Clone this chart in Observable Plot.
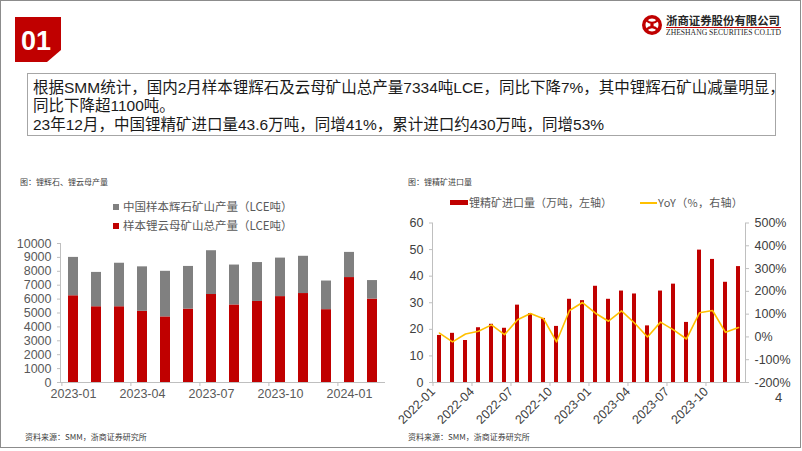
<!DOCTYPE html>
<html>
<head>
<meta charset="utf-8">
<script src="https://cdn.jsdelivr.net/npm/d3@7"></script>
<script src="https://cdn.jsdelivr.net/npm/@observablehq/plot@0.6"></script>
<style>
  body { margin: 0; background: #fff; }
  #slide { position: relative; width: 802px; height: 451px; overflow: hidden; background: #fff;
           font-family: "Liberation Sans", "Noto Sans CJK SC", sans-serif; }
  .abs { position: absolute; white-space: nowrap; }
  .small { font-size: 8px; color: #404040; font-family: "Noto Sans CJK SC", sans-serif; }
  .leg { font-size: 11.5px; color: #595959; font-family: "Noto Sans CJK SC", sans-serif; line-height: 14px; }
</style>
</head>
<body>
<div id="slide">
  <svg class="abs" style="left:0;top:0" width="802" height="451">
    <rect x="0.5" y="0.5" width="800" height="447" fill="none" stroke="#8c8c8c" stroke-width="1"/>
    <path d="M15,17 L61,17 L61,50 L47,62 L15,62 Z" fill="#C00000"/>
    <text x="36" y="50" fill="#fff" font-family="Liberation Sans" font-weight="bold" font-size="27" text-anchor="middle">01</text>
    <circle cx="652" cy="25" r="10" fill="#C00000"/>
    <circle cx="652" cy="25" r="6.5" fill="#fff"/>
    <path d="M646,20 Q652,26 658,20 M646,30 Q652,24 658,30" stroke="#C00000" stroke-width="2.2" fill="none"/>
    <circle cx="652" cy="25" r="1.8" fill="#C00000"/>
    <text x="666" y="25" fill="#262626" font-family="Noto Sans CJK SC" font-weight="bold" font-size="11.5" textLength="114" lengthAdjust="spacingAndGlyphs">浙商证券股份有限公司</text>
    <line x1="666" y1="27.5" x2="781" y2="27.5" stroke="#C00000" stroke-width="1"/>
    <text x="666" y="35" fill="#262626" font-family="Liberation Serif" font-size="7.5" textLength="115" lengthAdjust="spacingAndGlyphs">ZHESHANG SECURITIES CO.LTD</text>
    <rect x="27.5" y="73.5" width="748" height="62" fill="none" stroke="#a6a6a6" stroke-width="1"/>
  </svg>

  <div class="abs" style="left:33px;top:79px;font-size:15.5px;line-height:18.3px;color:#1a1a1a;">
    <div id="note1"></div><div id="note2"></div><div id="note3"></div>
  </div>

  <div class="abs small" style="left:20px;top:176px;">图：锂辉石、锂云母产量</div>
  <div class="abs small" style="left:408px;top:176px;">图：锂精矿进口量</div>

  <div class="abs leg" style="left:113px;top:199px;"><span style="display:inline-block;width:6px;height:6px;background:#808080;margin-right:4px;vertical-align:1px"></span><span id="legA"></span></div>
  <div class="abs leg" style="left:113px;top:218px;"><span style="display:inline-block;width:6px;height:6px;background:#C00000;margin-right:4px;vertical-align:1px"></span><span id="legB"></span></div>

  <div class="abs" style="left:450px;top:200px;width:18px;height:5px;background:#C00000"></div>
  <div class="abs leg" style="left:469px;top:195px;font-size:11px" id="legC"></div>
  <div class="abs" style="left:640px;top:202px;width:17px;height:2px;background:#FFC000"></div>
  <div class="abs leg" style="left:658px;top:195px;font-size:11px;letter-spacing:0.3px" id="legD"></div>

  <div class="abs" id="leftChart" style="left:0;top:235px;"></div>
  <div class="abs" id="rightChart" style="left:400px;top:212px;"></div>

  <div class="abs small" style="left:25px;top:431px;">资料来源：SMM，浙商证券研究所</div>
  <div class="abs small" style="left:408px;top:431px;">资料来源：SMM，浙商证券研究所</div>
  <div class="abs" style="left:775px;top:390px;font-size:13px;color:#404040;">4</div>
</div>

<script>
// ---------- text ----------
const noteLines = [
  "根据SMM统计，国内2月样本锂辉石及云母矿山总产量7334吨LCE，同比下降7%，其中锂辉石矿山减量明显，",
  "同比下降超1100吨。",
  "23年12月，中国锂精矿进口量43.6万吨，同增41%，累计进口约430万吨，同增53%"
];
const seriesNames = ["中国样本辉石矿山产量（LCE吨）", "样本锂云母矿山总产量（LCE吨）"];
const importNames = ["锂精矿进口量（万吨，左轴）", "YoY（%，右轴）"];

// ---------- left chart data ----------
const months23 = ["2023-01","2023-02","2023-03","2023-04","2023-05","2023-06","2023-07",
                  "2023-08","2023-09","2023-10","2023-11","2023-12","2024-01","2024-02"];
const micaOutput      = [6240,5450,5450,5120,4720,5280,6330,5580,5830,6180,6400,5240,7550,6000];
const spodumeneOutput = [2760,2470,3130,3200,3280,3070,3150,2870,2800,2770,2680,2060,1810,1334];
const leftYTicks = [0,1000,2000,3000,4000,5000,6000,7000,8000,9000,10000];
const leftXTicks = ["2023-01","2023-04","2023-07","2023-10","2024-01"];

// ---------- right chart data ----------
const months22 = ["2022-01","2022-02","2022-03","2022-04","2022-05","2022-06","2022-07","2022-08",
                  "2022-09","2022-10","2022-11","2022-12","2023-01","2023-02","2023-03","2023-04",
                  "2023-05","2023-06","2023-07","2023-08","2023-09","2023-10","2023-11","2023-12"];
const importVolume = [17.7,18.5,15.8,20.6,21.9,20.4,29.1,25.9,24.1,21.1,31.3,30.8,
                      36.2,31.3,34.4,33.3,21.3,34.4,37.0,22.6,49.8,46.3,37.7,43.6];
const importYoY = [17,-22,13,25,53,10,75,103,80,-22,116,151,
                   104,69,114,61,0,65,31,-9,106,116,20,41];
const rightYTicks = [0,10,20,30,40,50,60];
const yoyTicks = [-200,-100,0,100,200,300,400,500];
const rightXTicks = ["2022-01","2022-04","2022-07","2022-10","2023-01","2023-04","2023-07","2023-10"];

noteLines.forEach((t,i)=> document.getElementById("note"+(i+1)).textContent = t);
document.getElementById("legA").textContent = seriesNames[0];
document.getElementById("legB").textContent = seriesNames[1];
document.getElementById("legC").textContent = importNames[0];
document.getElementById("legD").textContent = importNames[1];

const axisGray = "#bfbfbf";

// ---------- left chart ----------
const stackData = months23.flatMap((m, i) => [
  {month: m, series: seriesNames[1], value: micaOutput[i]},
  {month: m, series: seriesNames[0], value: spodumeneOutput[i]}
]);
const LW = 400, LH = 174, LML = 60, LMR = 15, LMT = 8, LMB = 27;
const lStep = (LW - LML - LMR) / months23.length;

const left = Plot.plot({
  width: LW, height: LH,
  marginLeft: LML, marginRight: LMR, marginTop: LMT, marginBottom: LMB,
  style: {fontFamily: "Liberation Sans, Arial, sans-serif", fontSize: "12.5px", background: "transparent", overflow: "visible"},
  x: {type: "band", domain: months23, paddingInner: 0.57, paddingOuter: 0.285, label: null},
  y: {domain: [0, 10000], label: null},
  color: {domain: [seriesNames[1], seriesNames[0]], range: ["#C00000", "#808080"]},
  marks: [
    Plot.barY(stackData, {x: "month", y: "value", fill: "series"}),
    Plot.frame({anchor: "left", stroke: axisGray}),
    Plot.ruleY([0], {stroke: axisGray}),
    Plot.axisY(leftYTicks, {tickSize: 3, tickPadding: 6, stroke: axisGray, fill: "#595959", label: null, tickFormat: d => String(d)}),
    Plot.axisX(leftXTicks, {tickSize: 0, tickPadding: 7, fill: "#595959", label: null}),
    Plot.axisX(leftXTicks, {tickSize: 4, tickFormat: () => "", dx: -lStep / 2, stroke: axisGray, label: null})
  ]
});
document.getElementById("leftChart").appendChild(left);

// ---------- right chart ----------
const yoyToLeft = d3.scaleLinear([-200, 500], [0, 60]);
const importData = months22.map((m, i) => ({month: m, volume: importVolume[i], yoy: importYoY[i]}));
const RW = 402, RH = 223, RML = 32, RMR = 57, RMT = 10.5, RMB = 53;
const rStep = (RW - RML - RMR) / months22.length;

const right = Plot.plot({
  width: RW, height: RH,
  marginLeft: RML, marginRight: RMR, marginTop: RMT, marginBottom: RMB,
  style: {fontFamily: "Liberation Sans, Arial, sans-serif", fontSize: "12.5px", background: "transparent", overflow: "visible"},
  x: {type: "band", domain: months22, paddingInner: 0.67, paddingOuter: 0.335, label: null},
  y: {domain: [0, 60], label: null},
  marks: [
    Plot.barY(importData, {x: "month", y: "volume", fill: "#C00000"}),
    Plot.lineY(importData, {x: "month", y: d => yoyToLeft(d.yoy), stroke: "#FFC000", strokeWidth: 1.6}),
    Plot.frame({anchor: "left", stroke: axisGray}),
    Plot.frame({anchor: "right", stroke: axisGray}),
    Plot.ruleY([0], {stroke: axisGray}),
    Plot.axisY(rightYTicks, {anchor: "left", tickSize: 3, tickPadding: 6, stroke: axisGray, fill: "#404040", label: null}),
    Plot.axisY(yoyTicks.map(v => yoyToLeft(v)), {anchor: "right", tickSize: 3, tickPadding: 6, stroke: axisGray, fill: "#404040", label: null,
      tickFormat: d => Math.round(yoyToLeft.invert(d)) + "%"}),
    Plot.axisX(rightXTicks, {tickSize: 4, tickPadding: 3, tickRotate: -45, dx: -rStep / 2, stroke: axisGray, fill: "#404040", label: null})
  ]
});
document.getElementById("rightChart").appendChild(right);
</script>
</body>
</html>
